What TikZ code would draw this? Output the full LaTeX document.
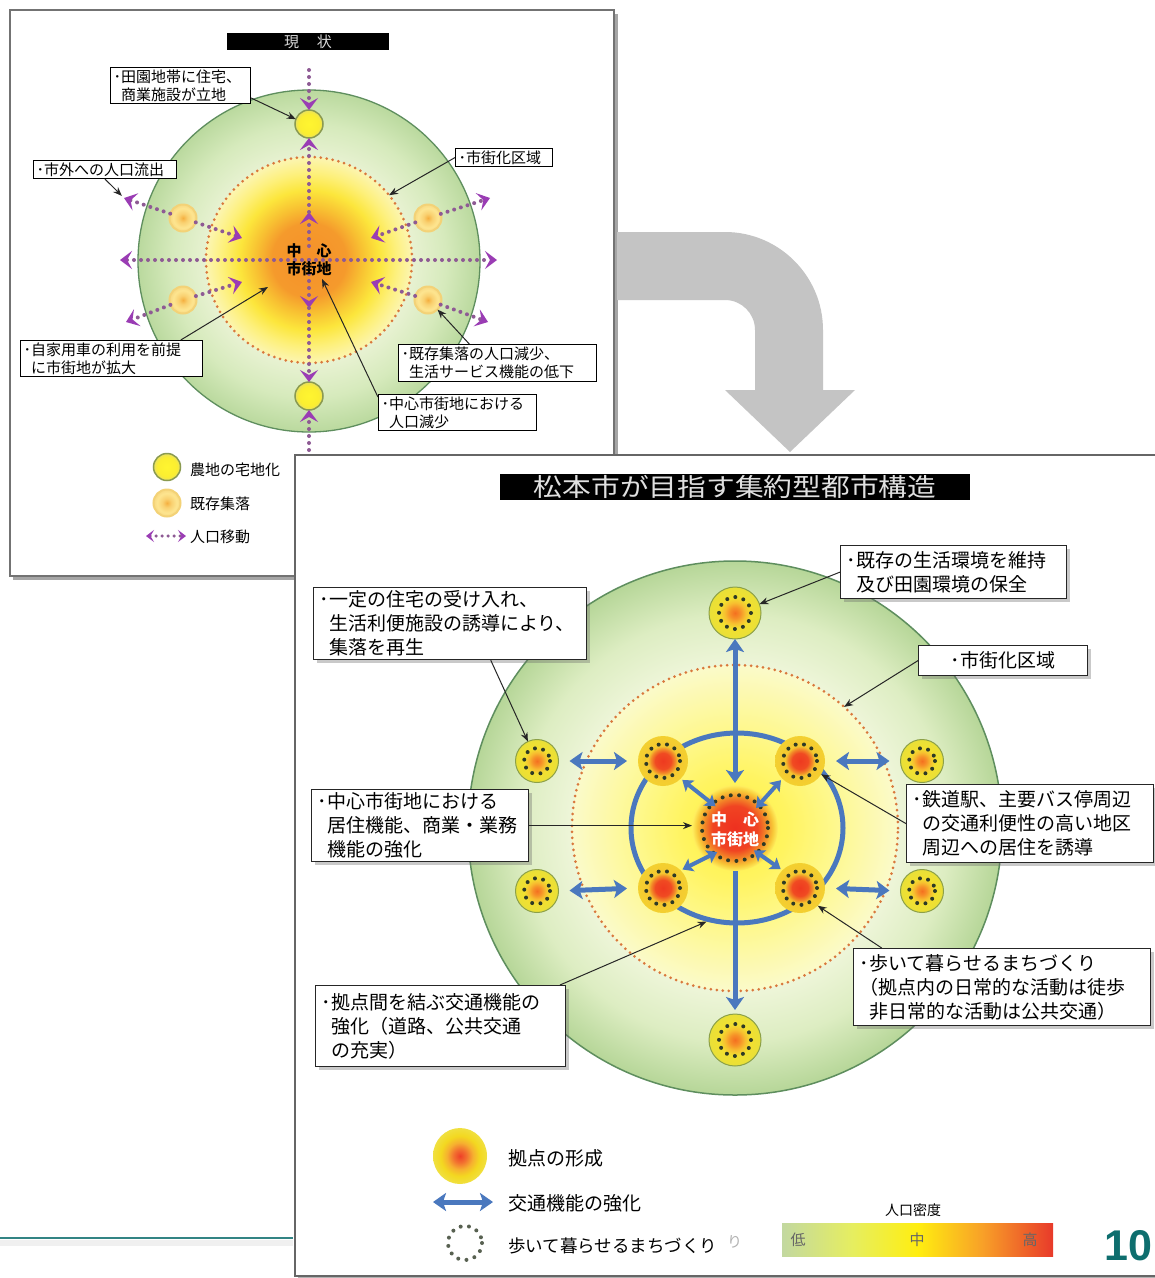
\documentclass[tikz,border=0pt]{standalone}
\usepackage{fontspec}
\setmainfont{Noto Sans CJK JP}
\newfontfamily\numfont{Liberation Sans}
\usetikzlibrary{arrows.meta,shapes.geometric,shadows}

\definecolor{purp}{HTML}{8E5A94}
\definecolor{purpA}{HTML}{9A3CB4}
\definecolor{dashor}{HTML}{D9783C}
\definecolor{gedge}{HTML}{5E8E5E}
\definecolor{blueA}{HTML}{4A78BE}
\definecolor{dotc}{HTML}{2E3A26}
\definecolor{pgteal}{HTML}{0E6E6E}
\definecolor{arrowgray}{HTML}{C4C4C4}
% shading colours
\definecolor{lgA}{HTML}{F2F8E0}\definecolor{lgB}{HTML}{E8F2D2}\definecolor{lgC}{HTML}{D6EABC}\definecolor{lgD}{HTML}{BAD99E}
\definecolor{lcA}{HTML}{F4902A}\definecolor{lcB}{HTML}{F59A2C}\definecolor{lcC}{HTML}{F8C232}\definecolor{lcD}{HTML}{FCE63C}\definecolor{lcE}{HTML}{FDF07A}\definecolor{lcF}{HTML}{FCF5B2}
\definecolor{bgA}{HTML}{F4F9E2}\definecolor{bgB}{HTML}{EFF6DA}\definecolor{bgC}{HTML}{DDEDC2}\definecolor{bgD}{HTML}{B6D698}
\definecolor{bcA}{HTML}{FFF040}\definecolor{bcB}{HTML}{FFF460}\definecolor{bcC}{HTML}{FEF88C}\definecolor{bcD}{HTML}{FBFACA}
\definecolor{faA}{HTML}{FFF530}\definecolor{faB}{HTML}{FBEE30}\definecolor{faC}{HTML}{E8E060}\definecolor{faE}{HTML}{8A9A50}
\definecolor{viA}{HTML}{F5B040}\definecolor{viB}{HTML}{F9D070}\definecolor{viC}{HTML}{FDE590}\definecolor{viD}{HTML}{F8D880}\definecolor{viE}{HTML}{F3D277}
\definecolor{ksA}{HTML}{F47020}\definecolor{ksB}{HTML}{F69028}\definecolor{ksC}{HTML}{F7C030}\definecolor{ksD}{HTML}{F2E030}\definecolor{ksE}{HTML}{E8E038}\definecolor{ksF}{HTML}{8CA048}
\definecolor{kiA}{HTML}{EE3A20}\definecolor{kiB}{HTML}{F04A22}\definecolor{kiC}{HTML}{F28A28}\definecolor{kiD}{HTML}{F5C830}\definecolor{kiE}{HTML}{F3D030}
\definecolor{ceA}{HTML}{EE3020}\definecolor{ceB}{HTML}{F04422}\definecolor{ceC}{HTML}{F38A28}\definecolor{ceD}{HTML}{F8C838}\definecolor{ceE}{HTML}{FFF060}
\definecolor{lkA}{HTML}{EE4028}\definecolor{lkB}{HTML}{F27030}\definecolor{lkC}{HTML}{F6B030}\definecolor{lkD}{HTML}{F3D820}\definecolor{lkE}{HTML}{F0E040}
\definecolor{dnA}{HTML}{C2D8A0}\definecolor{dnB}{HTML}{E6EE60}\definecolor{dnC}{HTML}{FFEE10}\definecolor{dnD}{HTML}{F8A028}\definecolor{dnE}{HTML}{E83A2A}

\pgfdeclareradialshading{lgreensh}{\pgfpoint{0bp}{0bp}}{color(0bp)=(lgA); color(15bp)=(lgB); color(20bp)=(lgC); color(25bp)=(lgD); color(50bp)=(lgD)}
\pgfdeclareradialshading{lcoresh}{\pgfpoint{0bp}{0bp}}{color(0bp)=(lcA); color(9bp)=(lcB); color(13bp)=(lcC); color(17bp)=(lcD); color(21bp)=(lcE); color(25bp)=(lcF); color(50bp)=(lcF)}
\pgfdeclareradialshading{bgreensh}{\pgfpoint{0bp}{0bp}}{color(0bp)=(bgA); color(15bp)=(bgB); color(20bp)=(bgC); color(25bp)=(bgD); color(50bp)=(bgD)}
\pgfdeclareradialshading{bcoresh}{\pgfpoint{0bp}{0bp}}{color(0bp)=(bcA); color(8bp)=(bcB); color(15bp)=(bcC); color(25bp)=(bcD); color(50bp)=(bcD)}
\pgfdeclareradialshading{farmsh}{\pgfpoint{0bp}{0bp}}{color(0bp)=(faA); color(18bp)=(faB); color(25bp)=(faC); color(50bp)=(faC)}
\pgfdeclareradialshading{villsh}{\pgfpoint{0bp}{0bp}}{color(0bp)=(viA); color(8bp)=(viB); color(18bp)=(viC); color(25bp)=(viD); color(50bp)=(viD)}
\pgfdeclareradialshading{kyoSsh}{\pgfpoint{0bp}{0bp}}{color(0bp)=(ksA); color(5bp)=(ksB); color(10bp)=(ksC); color(15bp)=(ksD); color(25bp)=(ksE); color(50bp)=(ksE)}
\pgfdeclareradialshading{kyoIsh}{\pgfpoint{0bp}{0bp}}{color(0bp)=(kiA); color(8bp)=(kiB); color(12bp)=(kiC); color(15bp)=(kiD); color(25bp)=(kiE); color(50bp)=(kiE)}
\pgfdeclareradialshading{centsh}{\pgfpoint{0bp}{0bp}}{color(0bp)=(ceA); color(13bp)=(ceB); color(18bp)=(ceC); color(22bp)=(ceD); color(25bp)=(ceE); color(50bp)=(ceE)}
\pgfdeclareradialshading{legksh}{\pgfpoint{0bp}{0bp}}{color(0bp)=(lkA); color(6bp)=(lkB); color(12bp)=(lkC); color(18bp)=(lkD); color(25bp)=(lkE); color(50bp)=(lkE)}
\pgfdeclarehorizontalshading{densh}{100bp}{color(0bp)=(dnA); color(25bp)=(dnA); color(38bp)=(dnB); color(50bp)=(dnC); color(62bp)=(dnD); color(75bp)=(dnE); color(100bp)=(dnE)}

\newcommand\myind{\hspace*{.5em}}
\newcommand\fsL{\fontsize{15}{18}\selectfont}
\newcommand\fsB{\fontsize{19}{24}\selectfont}

\tikzset{
  rnd/.style={circle, inner sep=0pt, outer sep=0pt},
  lbl/.style={draw=black, fill=white, line width=1.1pt, align=left, inner xsep=3pt, inner ysep=1pt, anchor=north west, font=\fsL},
  lblB/.style={draw=black!85, fill=white, line width=1.2pt, align=left, inner xsep=6pt, inner ysep=2pt, anchor=north west, font=\fsB,
     drop shadow={shadow xshift=3pt, shadow yshift=-3pt, opacity=.35, fill=black!60}},
  con/.style={draw=black!85, line width=1pt, -{Stealth[length=9pt,width=7pt]}},
  pdot/.style={draw=purp, line width=4pt, dash pattern=on 0pt off 7pt, line cap=round},
  ptip/.style={-{Stealth[length=12pt,width=18pt,inset=5pt,color=purpA]}},
  odots/.style={draw=dashor, line width=3pt, dash pattern=on 0pt off 6pt, line cap=round},
  farm/.style={rnd, shade, shading=farmsh, draw=faE, line width=1.5pt, minimum size=28},
  village/.style={rnd, shade, shading=villsh, draw=viE, line width=2pt, minimum size=27},
  kyoS/.style={rnd, shade, shading=kyoSsh, draw=ksF, line width=1pt},
  kyoI/.style={rnd, shade, shading=kyoIsh, minimum size=50},
  wdots/.style={draw=dotc, line width=4pt, dash pattern=on 0pt off 8.4pt, line cap=round},
  barrow/.style={draw=blueA, line width=5pt, {Stealth[length=13pt,width=18pt,inset=3pt]}-{Stealth[length=13pt,width=18pt,inset=3pt]}},
  sarrow/.style={draw=blueA, line width=4pt, {Stealth[length=10pt,width=14pt,inset=2pt]}-{Stealth[length=10pt,width=14pt,inset=2pt]}},
}

\begin{document}
\begin{tikzpicture}[x=1pt,y=-1pt]
\useasboundingbox[fill=white] (0,0) rectangle (1155,1278);

% ---------------- left panel -----------------
\fill[black!35] (13,14) rectangle (618,580);
\draw[draw=black!55, fill=white, line width=1.5pt] (10,10) rectangle (614,576);
\node[fill=black, minimum width=162, minimum height=17, inner sep=0pt] (T1) at (308,41.5) {};
\node[text=black!15, font=\fontsize{15}{15}\selectfont] (T1t) at (T1) {現\hspace{1.2em}状};

\node[rnd, shade, shading=lgreensh, draw=gedge, line width=1.3pt, minimum size=342] (Lout) at (309,261) {};
\node[rnd, shade, shading=lcoresh, odots, minimum size=206] (Lcore) at (309,260) {};

\node[farm] (F1) at (309,124) {};
\node[farm] (F2) at (309,396) {};
\node[village] (V1) at (183,218) {};
\node[village] (V2) at (183,300) {};
\node[village] (V3) at (428,218) {};
\node[village] (V4) at (428,300) {};

\coordinate (Lc) at (309,260);
\coordinate (pTop) at (309,70);
\coordinate (pUp1) at (309,246);
\coordinate (pUp2) at (309,212);
\coordinate (pDn1) at (309,274);
\coordinate (pDn2) at (309,308);
\coordinate (pBot) at (309,450);
\coordinate (pL) at (120,260);
\coordinate (pR) at (497,260);
\coordinate (o1) at (124,198); \coordinate (i1) at (242,238);
\coordinate (o2) at (126,322); \coordinate (i2) at (242,282);
\coordinate (o3) at (490,198); \coordinate (i3) at (371,238);
\coordinate (o4) at (488,322); \coordinate (i4) at (371,282);

\draw[pdot,ptip] (pTop) -- (F1.north);
\draw[pdot,ptip] (pUp1) -- (pUp2);
\draw[pdot,ptip] (pUp2) -- (F1.south);
\draw[pdot,ptip] (pDn1) -- (pDn2);
\draw[pdot,ptip] (pDn2) -- (F2.north);
\draw[pdot,ptip] (pBot) -- (F2.south);
\draw[pdot,ptip] (Lc) -- (pL);
\draw[pdot,ptip] (Lc) -- (pR);
\draw[pdot,ptip] (V1) -- (o1);
\draw[pdot,ptip] (V1) -- (i1);
\draw[pdot,ptip] (V2) -- (o2);
\draw[pdot,ptip] (V2) -- (i2);
\draw[pdot,ptip] (V3) -- (o3);
\draw[pdot,ptip] (V3) -- (i3);
\draw[pdot,ptip] (V4) -- (o4);
\draw[pdot,ptip] (V4) -- (i4);

\node[font=\bfseries\fontsize{15}{18}\selectfont, align=center] (Lct) at (309,260) {中\hspace{1em}心\\市街地};

\node[lbl, text width=134, minimum height=36] (B1) at (110,67) {･田園地帯に住宅、\\\myind 商業施設が立地};
\node[lbl, text width=137, minimum height=18] (B2) at (33,160) {･市外への人口流出};
\node[lbl, text width=91, minimum height=18] (B3) at (455,148) {･市街化区域};
\node[lbl, text width=176, minimum height=36] (B4) at (20,340) {･自家用車の利用を前提\\\myind に市街地が拡大};
\node[lbl, text width=192, minimum height=37] (B5) at (398,344) {･既存集落の人口減少、\\\myind 生活サービス機能の低下};
\node[lbl, text width=152, minimum height=36] (B6) at (378,394) {･中心市街地における\\\myind 人口減少};

\coordinate (pB) at (268,287);
\coordinate (pC) at (322,279);
\draw[con] (B1.-10) -- (F1.160);
\draw[con, shorten >=3pt] (B2.south) -- (o1);
\draw[con] (B3.west) -- (Lcore.39);
\draw[con] (B4.15) -- (pB);
\draw[con] (B5.146) -- (V4.-45);
\draw[con] (B6.169) -- (pC);

% left legend
\node[farm, minimum size=27] (LgF) at (167,467) {};
\node[anchor=west, font=\fsL, inner sep=0pt] (LgFt) at (190,470) {農地の宅地化};
\node[village, minimum size=27] (LgV) at (167,503) {};
\node[anchor=west, font=\fsL, inner sep=0pt] (LgVt) at (190,504) {既存集落};
\coordinate (LgA1) at (146,536);
\coordinate (LgA2) at (186,536);
\draw[pdot, line width=3.5pt, dash pattern=on 0pt off 6pt, {Stealth[length=8pt,width=12pt,inset=3.5pt,color=purpA]}-{Stealth[length=8pt,width=12pt,inset=3.5pt,color=purpA]}] (LgA1) -- (LgA2);
\node[anchor=west, font=\fsL, inner sep=0pt] (LgAt) at (190,537) {人口移動};

% ---------------- big grey arrow -----------------
\fill[arrowgray] (617,232) -- (725,232) .. controls (779,232) and (823,276) .. (823,330) -- (823,390) -- (855,390) -- (790,452) -- (725,390) -- (755,390) -- (755,330) .. controls (755,313.4) and (741.6,300) .. (725,300) -- (617,300) -- cycle;

% ---------------- footer line -----------------
\fill[black!6] (0,1240) rectangle (293,1246);
\draw[pgteal!85, line width=2.5pt] (0,1238) -- (293,1238);

% ---------------- bottom panel -----------------
\fill[black!30] (298,458) rectangle (1160,1282);
\draw[draw=black!60, fill=white, line width=2pt] (295,455) rectangle (1165,1276);
\node[fill=black, minimum width=470, minimum height=26, inner sep=0pt] (T2) at (735,487) {};
\node[text=black!12, font=\fontsize{25}{25}\selectfont, xscale=1.15] (T2t) at (T2) {松本市が目指す集約型都市構造};

\node[rnd, shade, shading=bgreensh, draw=gedge, line width=1.5pt, minimum size=534] (Bout) at (735,828) {};
\node[rnd, shade, shading=bcoresh, odots, minimum size=326] (Bdash) at (735,828) {};
\node[ellipse, draw=blueA, line width=5pt, minimum width=212, minimum height=190, inner sep=0pt] (Ring) at (737,828) {};

\node[kyoS, minimum size=52] (Ntop) at (735,613) {};
\node[kyoS, minimum size=52] (Nbot) at (735,1040) {};
\node[kyoS, minimum size=43] (O1) at (537,761) {};
\node[kyoS, minimum size=43] (O2) at (922,761) {};
\node[kyoS, minimum size=43] (O3) at (537,891) {};
\node[kyoS, minimum size=43] (O4) at (922,891) {};
\node[kyoI] (I1) at (663,761) {};
\node[kyoI] (I2) at (800,761) {};
\node[kyoI] (I3) at (663,888) {};
\node[kyoI] (I4) at (800,888) {};
\node[rnd, shade, shading=centsh, minimum size=86] (Bc) at (735,828) {};

\foreach \n/\r in {Ntop/16, Nbot/16, O1/13, O2/13, O3/13, O4/13, I1/17, I2/17, I3/17, I4/17, Bc/33}
  \draw[wdots] (\n.center) circle[radius=\r];

% transport arrows
\draw[barrow, shorten <=2pt] (Bc.north) -- (Ntop.south);
\draw[draw=blueA, line width=5pt, -{Stealth[length=13pt,width=18pt,inset=3pt]}, shorten >=4pt] (Bc.south) -- (Nbot.north);
\draw[sarrow, shorten <=-14pt, shorten >=2pt] (Bc.135) -- (I1.-45);
\draw[sarrow, shorten <=-14pt, shorten >=2pt] (Bc.45) -- (I2.-135);
\draw[sarrow, shorten <=-14pt, shorten >=2pt] (Bc.-135) -- (I3.45);
\draw[sarrow, shorten <=-14pt, shorten >=2pt] (Bc.-45) -- (I4.135);
\draw[barrow, shorten <=11pt, shorten >=11pt] (O1.east) -- (I1.west);
\draw[barrow, shorten <=11pt, shorten >=11pt] (I2.east) -- (O2.west);
\draw[barrow, shorten <=11pt, shorten >=11pt] (O3.east) -- (I3.west);
\draw[barrow, shorten <=11pt, shorten >=11pt] (I4.east) -- (O4.west);

\node[text=white, font=\bfseries\fontsize{16}{20}\selectfont, align=center] (Bct) at (735,829) {中\hspace{1em}心\\市街地};

% labels
\node[lblB, text width=214, minimum height=53] (C1) at (840,545) {･既存の生活環境を維持\\\myind 及び田園環境の保全};
\node[lblB, text width=261, minimum height=72] (C2) at (313,587) {･一定の住宅の受け入れ、\\\myind 生活利便施設の誘導により、\\\myind 集落を再生};
\node[lblB, text width=157, minimum height=30, align=center] (C3) at (918,645) {･市街化区域};
\node[lblB, text width=205, minimum height=72] (C4) at (311,789) {･中心市街地における\\\myind 居住機能、商業・業務\\\myind 機能の強化};
\node[lblB, text width=235, minimum height=78] (C5) at (906,784) {･鉄道駅、主要バス停周辺\\\myind の交通利便性の高い地区\\\myind 周辺への居住を誘導};
\node[lblB, text width=285, minimum height=77] (C6) at (853,948) {･歩いて暮らせるまちづくり\\（拠点内の日常的な活動は徒歩\\\myind 非日常的な活動は公共交通）};
\node[lblB, text width=238, minimum height=81] (C7) at (315,985) {･拠点間を結ぶ交通機能の\\\myind 強化（道路、公共交通\\\myind の充実）};

\draw[con] (C1.west) -- (Ntop.20);
\draw[con] (C2.-42) -- (O1.115);
\draw[con] (C3.west) -- (Bdash.48);
\draw[con] (C4.east) -- (C4.east -| Bc.west);
\draw[con] (C5.west) -- (I2.-32);
\draw[con] (C6.162) -- (I4.-45);
\draw[con] (C7.19) -- (Ring.-108);

% bottom legend
\node[ellipse, shade, shading=legksh, minimum width=54, minimum height=56, inner sep=0pt] (LgK) at (460,1156) {};
\node[anchor=west, font=\fsB, inner sep=0pt] (LgKt) at (508,1158) {拠点の形成};
\coordinate (LgB1) at (433,1202);
\coordinate (LgB2) at (493,1202);
\draw[barrow] (LgB1) -- (LgB2);
\node[anchor=west, font=\fsB, inner sep=0pt] (LgBt) at (508,1203) {交通機能の強化};
\node[rnd, minimum size=36] (LgW) at (465,1243) {};
\draw[wdots, draw=dotc!80] (LgW.center) circle[radius=17];
\node[anchor=west, font=\fontsize{17.5}{20}\selectfont, inner sep=0pt] (LgWt) at (508,1246) {歩いて暮らせるまちづくり};
\node[anchor=west, font=\fontsize{15}{15}\selectfont, text=black!30, inner sep=0pt] (LgWr) at (727,1242) {り};

% density bar
\node[font=\fontsize{14}{14}\selectfont] (Dt) at (913,1210) {人口密度};
\node[shade, shading=densh, minimum width=271, minimum height=33, inner sep=0pt] (Bar) at (917.5,1240) {};
\node[font=\fontsize{15}{15}\selectfont, text=black!60] (Dlo) at (798,1240) {低};
\node[font=\fontsize{15}{15}\selectfont, text=black!60] (Dmid) at (917,1240) {中};
\node[font=\fontsize{15}{15}\selectfont, text=black!60] (Dhi) at (1030,1240) {高};

\node[anchor=east, font=\numfont\bfseries\fontsize{43}{43}\selectfont, text=pgteal, inner sep=0pt] (pg) at (1153,1246) {10};
\end{tikzpicture}
\end{document}
